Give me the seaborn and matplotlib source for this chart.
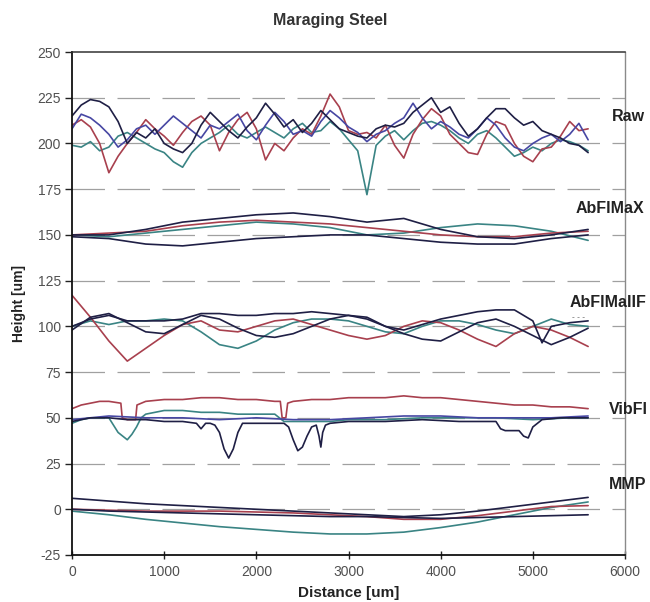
import numpy as np
import pandas as pd
import matplotlib
matplotlib.use("Agg")
import matplotlib.pyplot as plt
import seaborn as sns

# ---------------- data ----------------
TITLE = "Maraging Steel"
XLABEL = "Distance [um]"
YLABEL = "Height [um]"
GROUP_LABELS = ["Raw", "AbFlMaX", "AbFlMaIIF", "VibFl", "MMP"]
GROUP_LABEL_X = [5860, 5460, 5400, 5830, 5830]
GROUP_LABEL_Y = [214.5, 164.7, 113.3, 54.8, 13.3]
YTICKS = [-25, 0, 25, 50, 75, 100, 125, 150, 175, 200, 225, 250]
XTICKS = [0, 1000, 2000, 3000, 4000, 5000, 6000]

# Raw (every 100 um)
raw_x = list(range(0, 5601, 100))
raw_navy = [215, 221, 224, 223, 220, 212, 200, 206, 203, 208, 200, 197, 195, 200, 210, 217, 212, 207, 203, 209,
            214, 222, 216, 209, 213, 206, 211, 218, 213, 208, 206, 204, 203, 208, 210, 209, 211, 217, 221, 225,
            217, 220, 211, 204, 208, 214, 219, 219, 214, 210, 212, 207, 205, 203, 200, 199, 195]
raw_red = [210, 213, 209, 200, 184, 193, 200, 206, 213, 208, 204, 199, 206, 212, 215, 210, 196, 206, 213, 217,
           208, 191, 200, 196, 203, 208, 205, 215, 227, 220, 207, 205, 206, 203, 210, 199, 192, 205, 213, 219,
           215, 205, 200, 195, 194, 205, 212, 210, 200, 193, 190, 197, 198, 204, 212, 207, 208]
raw_teal = [199, 198, 201, 196, 198, 204, 206, 203, 200, 197, 195, 190, 187, 195, 200, 203, 206, 210, 205, 203,
            206, 209, 206, 203, 208, 211, 206, 207, 212, 208, 202, 196, 172, 199, 204, 207, 202, 207, 211, 212,
            210, 207, 203, 200, 205, 207, 203, 198, 193, 195, 198, 196, 200, 202, 201, 199, 196]
raw_blue = [208, 216, 214, 210, 205, 198, 202, 208, 210, 205, 210, 215, 211, 207, 203, 210, 208, 212, 216, 207,
            202, 210, 217, 212, 205, 207, 204, 212, 218, 214, 209, 206, 201, 205, 207, 211, 214, 222, 214, 208,
            212, 209, 205, 203, 208, 214, 210, 203, 198, 196, 200, 203, 205, 201, 205, 211, 202]

# AbFlMaX (every 400 um)
mx_x = [0, 400, 800, 1200, 1600, 2000, 2400, 2800, 3200, 3600, 4000, 4400, 4800, 5200, 5600]
mx_navy_top = [150, 150, 153, 157, 159, 161, 162, 160, 157, 159, 153, 149, 148, 150, 153]
mx_teal = [150, 149, 151, 153, 155, 157, 156, 154, 150, 151, 154, 156, 155, 152, 147]
mx_navy_low = [149, 148, 145, 144, 146, 148, 149, 150, 150, 148, 146, 145, 145, 148, 150]
mx_red = [150, 151, 152, 155, 157, 158, 157, 156, 154, 152, 150, 149, 149, 151, 152]

# AbFlMaIIF
mi_x = [0, 200, 400, 600, 800, 1000, 1200, 1400, 1600, 1800, 2000, 2200, 2400, 2600, 2800,
        3000, 3200, 3400, 3600, 3800, 4000, 4200, 4400, 4600, 4800, 5000, 5200, 5400, 5600]
mi_red = [117, 105, 92, 81, 88, 95, 101, 103, 98, 97, 100, 103, 104, 101, 98,
          95, 93, 95, 100, 103, 102, 98, 93, 89, 96, 100, 98, 94, 89]
mi_navy_a = [98, 105, 107, 102, 97, 96, 101, 106, 104, 99, 95, 94, 96, 100, 104,
             106, 105, 100, 96, 93, 92, 97, 102, 104, 100, 95, 90, 94, 99]
mi_teal = [100, 103, 101, 103, 103, 104, 103, 97, 90, 88, 92, 98, 102, 104, 104,
           103, 100, 97, 96, 100, 103, 103, 101, 98, 96, 100, 104, 101, 100]
mi_navy_b_x = [0, 200, 400, 600, 800, 1000, 1200, 1400, 1600, 1800, 2000, 2200, 2400, 2600, 2800,
               3000, 3200, 3400, 3600, 3800, 4000, 4200, 4400, 4600, 4800, 5000, 5100, 5200, 5400, 5600]
mi_navy_b = [100, 104, 106, 103, 103, 103, 104, 107, 107, 106, 106, 107, 107, 108, 107,
             106, 104, 100, 98, 101, 104, 106, 108, 109, 109, 103, 91, 100, 102, 103]

# VibFl
vf_red_x = [0, 100, 200, 300, 400, 530, 545, 600, 690, 705, 800, 1000, 1200, 1400, 1600, 1800, 2000, 2200,
            2260, 2280, 2320, 2340, 2400, 2600, 2800, 3000, 3200, 3400, 3600, 3800, 4000, 4200, 4400,
            4600, 4800, 5000, 5200, 5400, 5600]
vf_red = [55, 57, 58, 59, 59, 58, 50, 49, 49, 57, 59, 60, 60, 61, 61, 60, 60, 59,
          59, 50, 50, 58, 59, 60, 60, 61, 61, 61, 62, 61, 61, 60, 59,
          58, 57, 57, 56, 56, 55]
vf_teal_x = [0, 100, 200, 300, 400, 450, 500, 550, 600, 650, 700, 750, 800, 1000, 1200, 1400, 1600,
             1800, 2000, 2200, 2300, 2400, 2600, 2800, 3000, 3400, 3800, 4200, 4600, 5000, 5400, 5600]
vf_teal = [47, 49, 50, 50, 50, 46, 42, 40, 38, 41, 45, 50, 52, 54, 54, 53, 53,
           52, 52, 52, 48, 48, 48, 48, 49, 49, 50, 50, 50, 49, 50, 50]
vf_navy_x = [0, 200, 400, 600, 800, 1000, 1200, 1350, 1400, 1450, 1500, 1550, 1600, 1650, 1700, 1750,
             1800, 1850, 2000, 2200, 2300, 2350, 2400, 2450, 2500, 2550, 2600, 2650, 2680, 2700, 2720,
             2750, 2800, 3000, 3400, 3800, 4200, 4600, 4650, 4700, 4800, 4850, 4900, 4950, 5000, 5100,
             5300, 5600]
vf_navy = [48, 50, 50, 49, 49, 48, 48, 47, 44, 47, 47, 46, 42, 33, 28, 33,
           42, 47, 47, 47, 47, 45, 38, 32, 34, 40, 45, 46, 40, 34, 42,
           46, 47, 48, 48, 49, 48, 48, 44, 43, 43, 43, 40, 39, 45, 49,
           50, 50]
vf_blue_x = [0, 400, 800, 1200, 1600, 2000, 2400, 2800, 3200, 3600, 4000, 4400, 4800, 5200, 5600]
vf_blue = [49, 51, 50, 50, 49, 50, 49, 49, 50, 51, 51, 50, 50, 50, 51]

# MMP (every 400 um)
mm_x = [0, 400, 800, 1200, 1600, 2000, 2400, 2800, 3200, 3600, 4000, 4400, 4800, 5200, 5600]
mm_navy_top = [6, 4.5, 3, 2, 1, 0, -1, -2, -3, -4, -3, -1, 1.5, 4, 6.5]
mm_red = [0, -0.5, -1, -1, -1, -1.5, -2, -3, -4, -5.5, -5.5, -3.5, -1, 1.5, 2]
mm_navy_mid = [0, -1, -1.5, -2, -2.5, -3, -3.5, -4, -4, -4.5, -5, -4.5, -4, -3.5, -3]
mm_teal = [-1, -3, -5.5, -7.5, -9.5, -11, -12.5, -13.5, -13.5, -12.5, -10, -7, -3, 1, 4]

# ---------------- build long table ----------------
series = [
    ("raw_teal", "teal", raw_x, raw_teal), ("raw_red", "red", raw_x, raw_red),
    ("raw_blue", "blue", raw_x, raw_blue), ("raw_navy", "navy", raw_x, raw_navy),
    ("mx_teal", "teal", mx_x, mx_teal), ("mx_red", "red", mx_x, mx_red),
    ("mx_navy_top", "navy", mx_x, mx_navy_top), ("mx_navy_low", "navy", mx_x, mx_navy_low),
    ("mi_teal", "teal", mi_x, mi_teal), ("mi_red", "red", mi_x, mi_red),
    ("mi_navy_a", "navy", mi_x, mi_navy_a), ("mi_navy_b", "navy", mi_navy_b_x, mi_navy_b),
    ("vf_red", "red", vf_red_x, vf_red), ("vf_teal", "teal", vf_teal_x, vf_teal),
    ("vf_blue", "blue", vf_blue_x, vf_blue), ("vf_navy", "navy", vf_navy_x, vf_navy),
    ("mm_teal", "teal", mm_x, mm_teal), ("mm_red", "red", mm_x, mm_red),
    ("mm_navy_mid", "navy", mm_x, mm_navy_mid), ("mm_navy_top", "navy", mm_x, mm_navy_top),
]
frames = []
for name, col, xs, ys in series:
    frames.append(pd.DataFrame({"x": xs, "y": ys, "line": name, "colour": col}))
df = pd.concat(frames, ignore_index=True)

COLOURS = {"navy": "#1f1f45", "red": "#a8404e", "teal": "#3a8484", "blue": "#4747a3"}
palette = {name: COLOURS[col] for name, col, _, _ in series}

# ---------------- draw ----------------
sns.set_theme(style="white")
plt.rcParams["font.family"] = ["Liberation Sans", "DejaVu Sans"]
plt.rcParams["axes.unicode_minus"] = False

fig = plt.figure(figsize=(6.5, 6.02), dpi=100)
ax = fig.add_axes([72 / 650, 1 - 555 / 602, (625 - 72) / 650, (555 - 52) / 602])

for y in YTICKS[1:-1]:
    ax.axhline(y, color="#a0a0a0", lw=0.9, linestyle=(0, (26, 10)), zorder=0)

sns.lineplot(data=df, x="x", y="y", hue="line", units="line", estimator=None, sort=False,
             palette=palette, legend=False, lw=1.2, ax=ax)

ax.set_xlim(0, 6000)
ax.set_ylim(-25, 250)
ax.set_xticks(XTICKS)
ax.set_yticks(YTICKS)
ax.tick_params(axis="y", direction="out", length=5, width=1, color="#222222",
               labelsize=10, labelcolor="#505050", pad=3, left=True)
ax.tick_params(axis="x", direction="inout", length=6, width=1, color="#222222",
               labelsize=10, labelcolor="#505050", pad=4, bottom=True)

for side in ["left", "bottom"]:
    ax.spines[side].set_color("#111111")
    ax.spines[side].set_linewidth(1.3)
ax.spines["top"].set_color("#333333")
ax.spines["top"].set_linewidth(1.1)
ax.spines["right"].set_color("#8a8a8a")
ax.spines["right"].set_linewidth(1.0)

ax.set_xlabel(XLABEL, fontsize=11, fontweight="bold", color="#222222", labelpad=5)
ax.set_ylabel(YLABEL, fontsize=10, fontweight="bold", color="#222222", labelpad=8)
fig.text(330 / 650, 1 - 25 / 602, TITLE, ha="center", va="baseline",
         fontsize=11.5, fontweight="bold", color="#333333")

for lab, lx, ly in zip(GROUP_LABELS, GROUP_LABEL_X, GROUP_LABEL_Y):
    ax.text(lx, ly, lab, ha="left", va="center", fontsize=11.5, fontweight="bold",
            color="#222222", clip_on=False)
ax.text(5420, 105, "- - -", ha="left", va="center", fontsize=6, color="#555555", clip_on=False)

fig.savefig("out.png", dpi=100, facecolor="white")
